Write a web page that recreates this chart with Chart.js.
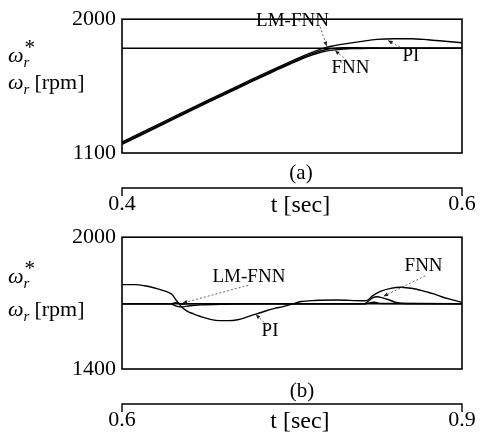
<!DOCTYPE html>
<html>
<head>
<meta charset="utf-8">
<script src="https://cdn.jsdelivr.net/npm/chart.js@4.4.0/dist/chart.umd.min.js"></script>
<style>
  body { margin: 0; background: #fff; }
  #wrap { position: relative; width: 480px; height: 438px; font-family: "Liberation Serif", serif; color: #000; }
  canvas { position: absolute; left: 0; }
  .yl { position: absolute; font-size: 22px; line-height: 26px; white-space: nowrap; }
  .sx { display: inline-block; position: relative; width: 10px; height: 20px; }
  .st { position: absolute; left: 1px; top: -8px; font-size: 21px; }
  .sb { position: absolute; left: 0; top: 7px; font-size: 15px; }
  .sub { font-size: 15px; position: relative; top: 5px; margin-right: 5px; }
  .cap { position: absolute; font-size: 21px; width: 60px; text-align: center; }
</style>
</head>
<body>
<div id="wrap">
  <canvas id="chartA" width="480" height="218" style="top:0"></canvas>
  <canvas id="chartB" width="480" height="220" style="top:218px"></canvas>

  <div class="yl" style="left:8px;top:42px"><i>ω</i><span class="sx"><span class="st">*</span><i class="sb">r</i></span></div>
  <div class="yl" style="left:8px;top:69px"><i>ω</i><i class="sub">r</i>[rpm]</div>
  <div class="cap" style="left:271px;top:160px">(a)</div>

  <div class="yl" style="left:8px;top:263px"><i>ω</i><span class="sx"><span class="st">*</span><i class="sb">r</i></span></div>
  <div class="yl" style="left:8px;top:296px"><i>ω</i><i class="sub">r</i>[rpm]</div>
  <div class="cap" style="left:272px;top:378px">(b)</div>
</div>
<script>
// (a) speed step 0.4 - 0.6 s
const tA     = [0.400, 0.425, 0.450, 0.475, 0.490, 0.500, 0.505, 0.510, 0.515, 0.520, 0.525, 0.530, 0.535, 0.540, 0.550, 0.560, 0.570, 0.580, 0.590, 0.600];
const piA    = [1173, 1313, 1453, 1588, 1668, 1720, 1745, 1768, 1790, 1810, 1822, 1832, 1841, 1849, 1864, 1869, 1869, 1862, 1852, 1842];
const lmA    = [1165, 1305, 1445, 1580, 1660, 1712, 1736, 1760, 1780, 1796, 1804, 1808, 1808, 1807, 1806, 1805, 1805, 1805, 1805, 1805];
const fnnA   = [1158, 1298, 1438, 1573, 1653, 1705, 1729, 1752, 1771, 1785, 1794, 1799, 1802, 1803, 1804, 1805, 1805, 1805, 1805, 1805];
const tRefA  = [0.4, 0.6];
const refA   = [1805, 1805];
const xTicksA = [0.4, 0.6];
const yTicksA = [1100, 2000];

// (b) load disturbance 0.6 - 0.9 s
const tPiB  = [0.600, 0.612, 0.620, 0.628, 0.636, 0.640, 0.644, 0.648, 0.652, 0.657, 0.663, 0.670, 0.678, 0.686, 0.694, 0.702, 0.710, 0.718, 0.726, 0.734, 0.742, 0.750, 0.758, 0.770, 0.790, 0.812, 0.816, 0.821, 0.828, 0.837, 0.846, 0.853, 0.860, 0.868, 0.875, 0.882, 0.890, 0.900];
const piB   = [1784, 1784, 1779, 1770, 1758, 1751, 1740, 1712, 1686, 1665, 1651, 1638, 1626, 1620, 1620, 1624, 1636, 1650, 1663, 1675, 1684, 1695, 1707, 1712, 1714, 1711, 1712, 1733, 1753, 1767, 1772, 1769, 1763, 1752, 1742, 1729, 1717, 1703];
const tLmB  = [0.600, 0.644, 0.647, 0.650, 0.653, 0.657, 0.700, 0.815, 0.819, 0.823, 0.828, 0.900];
const lmB   = [1697, 1697, 1702, 1700, 1694, 1697, 1697, 1697, 1702, 1704, 1698, 1697];
const tFnnB = [0.600, 0.643, 0.647, 0.651, 0.655, 0.660, 0.670, 0.690, 0.720, 0.814, 0.818, 0.821, 0.825, 0.830, 0.836, 0.842, 0.850, 0.900];
const fnnB  = [1697, 1697, 1688, 1683, 1684, 1688, 1692, 1695, 1697, 1697, 1712, 1724, 1729, 1724, 1714, 1703, 1698, 1697];
const tRefB = [0.6, 0.9];
const refB  = [1697, 1697];
const xTicksB = [0.6, 0.9];
const yTicksB = [1400, 2000];

const FONT = "Liberation Serif";

function pts(ts, vs) {
    return ts.map((t, i) => ({ x: t, y: vs[i] }));
}

function line(ts, vs) {
    return {
        data: pts(ts, vs),
        borderColor: '#000',
        borderWidth: 1.4,
        pointRadius: 0,
        fill: false,
        cubicInterpolationMode: 'monotone'
    };
}

// box around the plot, detached time axis below it, and the curve labels
const framePlugin = {
    id: 'frame',
    afterDraw(chart, args, opts) {
        const ctx = chart.ctx;
        const a = chart.chartArea;
        const xs = chart.scales.x, ys = chart.scales.y;
        ctx.save();
        ctx.strokeStyle = '#000';
        ctx.lineWidth = 1.6;
        ctx.strokeRect(a.left, a.top, a.right - a.left, a.bottom - a.top);

        const ay = a.bottom + 35;
        ctx.lineWidth = 1.4;
        ctx.beginPath();
        ctx.moveTo(xs.left, ay + 8);
        ctx.lineTo(xs.left, ay);
        ctx.lineTo(xs.right, ay);
        ctx.lineTo(xs.right, ay + 8);
        ctx.stroke();

        ctx.fillStyle = '#000';
        ctx.font = '19px "' + FONT + '"';
        ctx.textAlign = 'center';
        ctx.textBaseline = 'middle';
        opts.notes.forEach(n => {
            ctx.fillText(n.text, xs.getPixelForValue(n.at[0]), ys.getPixelForValue(n.at[1]));
            const x0 = xs.getPixelForValue(n.from[0]), y0 = ys.getPixelForValue(n.from[1]);
            const x1 = xs.getPixelForValue(n.to[0]), y1 = ys.getPixelForValue(n.to[1]);
            ctx.strokeStyle = '#444';
            ctx.lineWidth = 0.8;
            ctx.setLineDash([2, 2]);
            ctx.beginPath();
            ctx.moveTo(x0, y0);
            ctx.lineTo(x1, y1);
            ctx.stroke();
            ctx.setLineDash([]);
            const ang = Math.atan2(y1 - y0, x1 - x0);
            ctx.fillStyle = '#222';
            ctx.beginPath();
            ctx.moveTo(x1, y1);
            ctx.lineTo(x1 - 5 * Math.cos(ang - 0.4), y1 - 5 * Math.sin(ang - 0.4));
            ctx.lineTo(x1 - 5 * Math.cos(ang + 0.4), y1 - 5 * Math.sin(ang + 0.4));
            ctx.closePath();
            ctx.fill();
            ctx.fillStyle = '#000';
        });
        ctx.restore();
    }
};

function makeChart(id, sets, xr, yr, xTicks, yTicks, titleAt, padTop, xH, notes) {
    return new Chart(document.getElementById(id), {
        type: 'line',
        data: { datasets: sets },
        options: {
            responsive: false,
            animation: false,
            layout: { padding: { left: 0, right: 18, top: padTop, bottom: 0 } },
            plugins: { legend: { display: false }, tooltip: { enabled: false }, frame: { notes: notes } },
            scales: {
                x: {
                    type: 'linear', min: xr[0], max: xr[1],
                    grid: { display: false, drawTicks: false }, border: { display: false },
                    afterBuildTicks: s => { s.ticks = [xTicks[0], titleAt, xTicks[1]].map(v => ({ value: v })); },
                    afterFit: s => { s.height = xH; s.paddingLeft = 0; s.paddingRight = 0; },
                    ticks: {
                        color: '#000', padding: 38, maxRotation: 0, autoSkip: false,
                        font: c => ({ family: FONT, size: c.index === 1 ? 24 : 22 }),
                        callback: (v, i) => i === 1 ? 't [sec]' : String(v)
                    }
                },
                y: {
                    min: yr[0], max: yr[1],
                    grid: { display: false, drawTicks: false }, border: { display: false },
                    afterBuildTicks: s => { s.ticks = yTicks.map(v => ({ value: v })); },
                    afterFit: s => { s.width = 122; },
                    ticks: { color: '#000', padding: 6, font: { family: FONT, size: 22 }, callback: v => String(v) }
                }
            }
        },
        plugins: [framePlugin]
    });
}

makeChart('chartA',
    [line(tRefA, refA), line(tA, lmA), line(tA, fnnA), line(tA, piA)],
    [0.4, 0.6], [1100, 2000], xTicksA, yTicksA, 0.505, 14, 65,
    [
        { text: 'LM-FNN', at: [0.5003, 1990], from: [0.5165, 1950], to: [0.5204, 1818] },
        { text: 'FNN', at: [0.5344, 1669], from: [0.5322, 1723], to: [0.5253, 1790] },
        { text: 'PI', at: [0.5700, 1755], from: [0.5636, 1812], to: [0.5565, 1856] }
    ]);

makeChart('chartB',
    [line(tRefB, refB), line(tLmB, lmB), line(tFnnB, fnnB), line(tPiB, piB)],
    [0.6, 0.9], [1400, 2000], xTicksB, yTicksB, 0.757, 11, 69,
    [
        { text: 'LM-FNN', at: [0.712, 1817], from: [0.7114, 1781], to: [0.6534, 1700] },
        { text: 'FNN', at: [0.8661, 1867], from: [0.8676, 1824], to: [0.8307, 1731] },
        { text: 'PI', at: [0.7306, 1574], from: [0.7280, 1600], to: [0.7180, 1648] }
    ]);
</script>
</body>
</html>
